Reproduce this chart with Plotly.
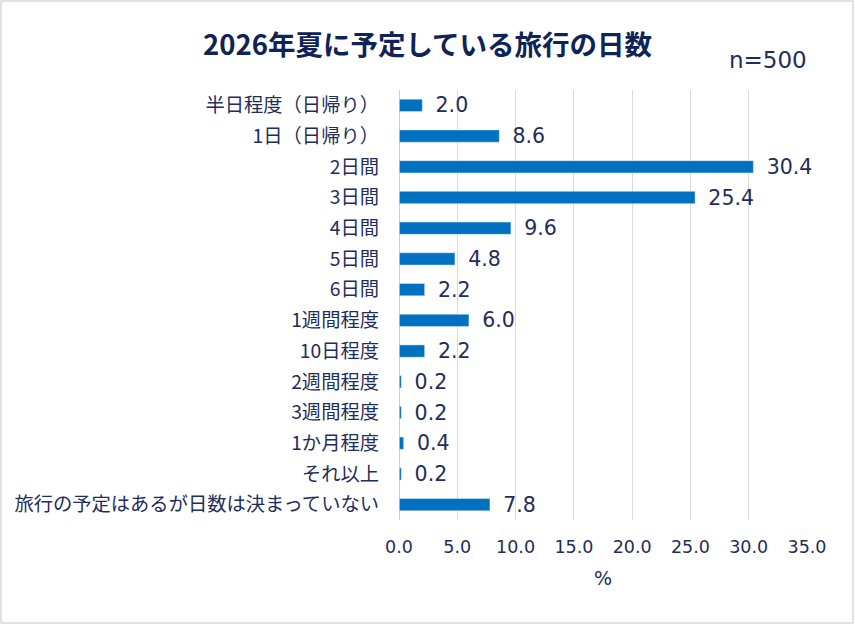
import plotly.graph_objects as go

categories = ["半日程度（日帰り）", "1日（日帰り）", "2日間", "3日間", "4日間", "5日間", "6日間",
              "1週間程度", "10日程度", "2週間程度", "3週間程度", "1か月程度", "それ以上",
              "旅行の予定はあるが日数は決まっていない"]
values = [2.0, 8.6, 30.4, 25.4, 9.6, 4.8, 2.2, 6.0, 2.2, 0.2, 0.2, 0.4, 0.2, 7.8]
tick_vals = [0, 5, 10, 15, 20, 25, 30, 35]

W, H = 855, 625
L, R, T, B = 399, 48, 90, 105
pw, ph = W - L - R, H - T - B
txt = "#1F2D5A"
cjk = "Noto Sans CJK JP"
num = "DejaVu Sans, Noto Sans CJK JP"

fig = go.Figure(go.Bar(
    x=values, y=categories, orientation="h",
    marker=dict(color="#0070C0"), width=0.4,
    text=["\u2002" + f"{v:.1f}" for v in values], textposition="outside",
    constraintext="none",
    textfont=dict(size=20.5, color=txt, family=num),
    cliponaxis=False,
))

def px(x):
    return (x - L) / pw

def py(y):
    return 1 - (y - T) / ph

fig.update_layout(
    width=W, height=H,
    margin=dict(l=L, r=R, t=T, b=B, autoexpand=False),
    paper_bgcolor="white", plot_bgcolor="white",
    font=dict(family=cjk, color=txt),
    showlegend=False,
    xaxis=dict(range=[0, 35], tickvals=tick_vals, tickformat=".1f",
               showgrid=True, gridcolor="#D9D9D9", gridwidth=1,
               zeroline=False, showline=False, ticks="",
               ticklabelstandoff=14,
               tickfont=dict(size=17.5, color=txt, family=num),
               title=dict(text="%", font=dict(size=19, color=txt, family=num), standoff=16)),
    yaxis=dict(autorange="reversed", showgrid=False, zeroline=False, ticks="",
               showline=False, ticklabelstandoff=19,
               tickfont=dict(size=19.3, color=txt, family=cjk)),
    shapes=[
        dict(type="rect", xref="paper", yref="paper",
             x0=px(1), x1=px(853), y0=py(623), y1=py(1),
             line=dict(color="#D9D9D9", width=1.5), layer="below"),
        dict(type="line", xref="x", yref="paper", x0=0, x1=0, y0=0, y1=1,
             line=dict(color="#BFBFBF", width=1.5)),
    ],
    annotations=[
        dict(text="<b>2026年夏に予定している旅行の日数</b>", xref="paper", yref="paper",
             x=px(427), y=py(43), xanchor="center", yanchor="middle", showarrow=False,
             font=dict(size=27.5, color="#0F2356", family=cjk)),
        dict(text="n=500", xref="paper", yref="paper",
             x=px(809), y=py(60), xanchor="right", yanchor="middle", showarrow=False,
             font=dict(size=23, color=txt, family=num)),
    ],
)

fig.write_html("out.html")
